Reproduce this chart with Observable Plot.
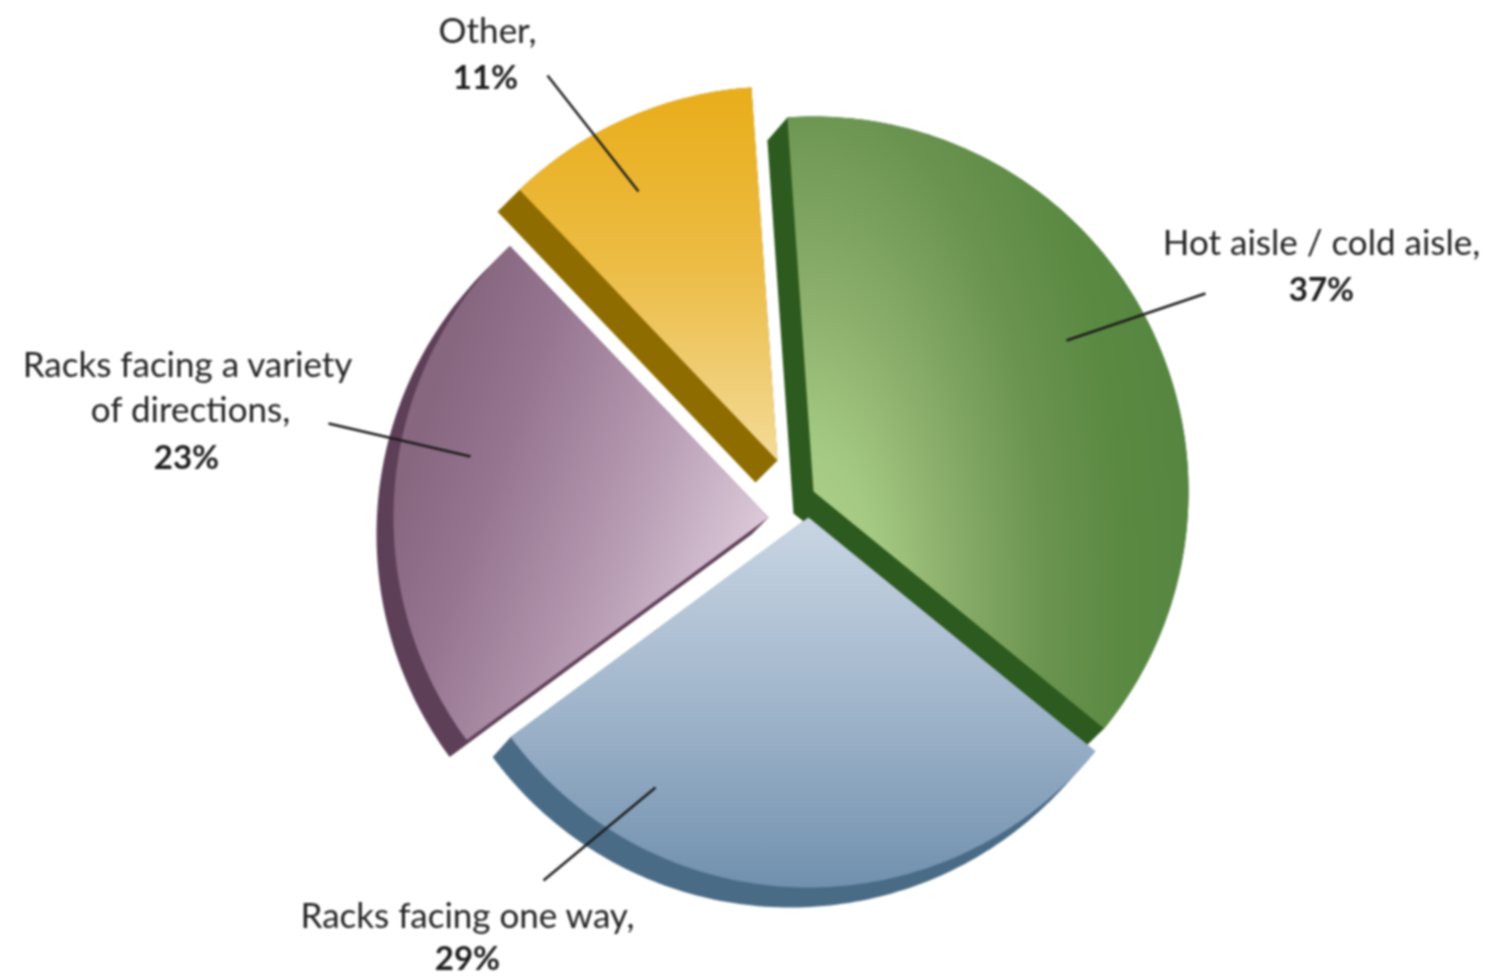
<!DOCTYPE html>
<html><head><meta charset="utf-8">
<style>html,body{margin:0;padding:0;background:#fff}svg{display:block}</style>
<script src="https://cdn.jsdelivr.net/npm/d3@7"></script>
<script src="https://cdn.jsdelivr.net/npm/@observablehq/plot@0.6"></script>
</head><body>
<script>
// Data
const names  = ["Hot aisle / cold aisle", "Racks facing one way", "Racks facing a variety of directions", "Other"];
const shares = [37, 29, 23, 11];
const startAngle = -4;

// Layout of the exploded pie, in page units
const apexX = [813, 808, 768, 777];
const apexY = [491, 517, 517, 460];
const radii = [375, 370, 375, 374];
const backX = [793, 790, 751, 755];
const backY = [513, 537, 534, 482];
const backRadii = [374, 370, 375, 374];
const backEndTrim = [1, 0, 0, 0];

// Colours
const backColors = ["#2d5a1e", "#4a6b86", "#5e3f58", "#8f6c00"];
const gradientIds = ["gGreen", "gBlue", "gPurple", "gYellow"];

// Labels
const labelLines = ["Hot aisle / cold aisle,", "37%", "Racks facing one way,", "29%", "Racks facing a variety", "of directions,", "23%", "Other,", "11%"];
const labelBold  = [false, true, false, true, false, false, true, false, true];
const labelX = [1321, 1321, 467, 467, 187, 190, 186, 487, 485];
const labelY = [243, 290, 916, 959, 365, 410, 458, 31, 78];

// Leader lines
const leaderX1 = [1205, 543, 328, 547];
const leaderY1 = [293, 880, 423, 75];
const leaderX2 = [1066, 655, 470, 638];
const leaderY2 = [340, 787, 456, 191];

// Wedge geometry from the shares
let acc = startAngle;
const spans = shares.map(s => { const a = acc; acc += s * 3.6; return [a, acc]; });
function wedge(cx, cy, r, a0, a1) {
  const pts = [[cx, cy]];
  const n = Math.ceil(a1 - a0);
  for (let i = 0; i <= n; i++) {
    const t = (a0 + (a1 - a0) * i / n) * Math.PI / 180;
    pts.push([cx + r * Math.sin(t), cy - r * Math.cos(t)]);
  }
  return pts;
}
const faces = shares.map((_, i) => wedge(apexX[i], apexY[i], radii[i], spans[i][0], spans[i][1]));
const backs = shares.map((_, i) => d3.polygonHull(faces[i].concat(wedge(backX[i], backY[i], backRadii[i], spans[i][0], spans[i][1] - backEndTrim[i]))));
const closed = p => p.concat([p[0]]);

const defs = () => {
  const d = d3.create("svg:defs");
  const stops = (g, s) => s.forEach(([o, c]) => g.append("stop").attr("offset", o).attr("stop-color", c));
  const rg = d.append("radialGradient").attr("id", "gGreen").attr("gradientUnits", "userSpaceOnUse")
    .attr("cx", 0).attr("cy", 0).attr("r", 400)
    .attr("gradientTransform", "translate(800,610) scale(1,2.1)");
  stops(rg, [[0, "#b4d590"], [.2, "#a4c982"], [.42, "#85a966"], [.62, "#6a9350"], [.8, "#5b8a42"], [1, "#558540"]]);
  const lin = (id, x1, y1, x2, y2, s) => {
    const g = d.append("linearGradient").attr("id", id).attr("gradientUnits", "userSpaceOnUse")
      .attr("x1", x1).attr("y1", y1).attr("x2", x2).attr("y2", y2);
    stops(g, s);
  };
  lin("gBlue", 0, 520, 0, 890, [[0, "#c8d5e3"], [.5, "#a0b5cb"], [1, "#7090ae"]]);
  lin("gPurple", 760, 520, 430, 400, [[0, "#dac7d7"], [.35, "#b79cb3"], [.75, "#967590"], [1, "#876680"]]);
  lin("gYellow", 0, 95, 0, 470, [[0, "#e9ae1c"], [.45, "#ecbc44"], [1, "#f3dc9c"]]);
  return d.node();
};

const marks = [defs];
[0, 2, 3, 1].forEach(i => {
  marks.push(Plot.line(closed(backs[i]), {x: d => d[0], y: d => d[1], fill: backColors[i], stroke: "none", curve: "linear"}));
  marks.push(Plot.line(closed(faces[i]), {x: d => d[0], y: d => d[1], fill: `url(#${gradientIds[i]})`, stroke: "none", curve: "linear"}));
});
marks.push(Plot.link(d3.range(leaderX1.length), {
  x1: i => leaderX1[i], y1: i => leaderY1[i], x2: i => leaderX2[i], y2: i => leaderY2[i],
  stroke: "#1c1c1c", strokeWidth: 2.4
}));
const idx = d3.range(labelLines.length);
const textRows = bold => idx.filter(i => labelBold[i] === bold);
marks.push(Plot.text(textRows(false), {
  x: i => labelX[i], y: i => labelY[i], text: i => labelLines[i],
  fontFamily: "Lato", fontSize: 35, fontWeight: 400, fill: "#222", textAnchor: "middle", lineAnchor: "middle"
}));
marks.push(Plot.text(textRows(true), {
  x: i => labelX[i], y: i => labelY[i], text: i => labelLines[i],
  fontFamily: "Lato", fontSize: 33, fontWeight: 700, fill: "#1c1c1c", textAnchor: "middle", lineAnchor: "middle"
}));

document.body.append(Plot.plot({
  width: 1489, height: 978, margin: 0,
  x: {domain: [0, 1489], range: [0, 1489], axis: null},
  y: {domain: [0, 978], range: [0, 978], axis: null},
  style: {background: "#fff", filter: "blur(0.8px)"},
  marks
}));
</script>
</body></html>
